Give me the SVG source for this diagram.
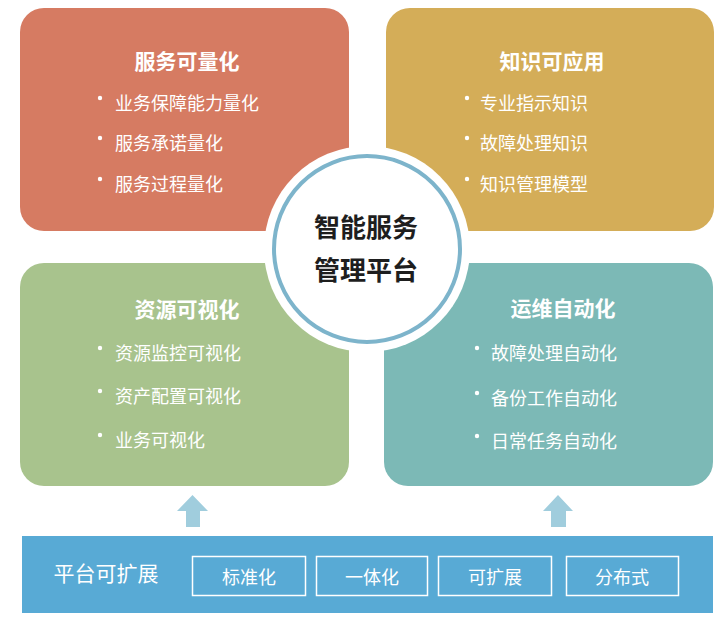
<svg xmlns="http://www.w3.org/2000/svg" width="723" height="619" viewBox="0 0 723 619">
<style>
text{font-family:"Noto Sans CJK SC","Noto Sans",sans-serif;dominant-baseline:central}
.t{font-size:21px;font-weight:bold;fill:#fff;text-anchor:middle}
.b{font-size:18px;fill:#fff}
.d{fill:#fff}
.c{font-size:26px;font-weight:bold;fill:#1e1e1e;text-anchor:middle}
.bx{fill:none;stroke:#fff;stroke-width:1.5}
.bt{font-size:18px;fill:#fff;text-anchor:middle}
.ar{fill:#a0cddd}
</style>
<rect width="723" height="619" fill="#fff"/>
<g id="quantify">
<rect x="20" y="8" width="329" height="223" rx="24" fill="#d67b62"/>
<text class="t" x="187" y="60">服务可量化</text>
<circle class="d" cx="100" cy="98" r="2.2"/><text class="b" x="115" y="102">业务保障能力量化</text>
<circle class="d" cx="100" cy="138" r="2.2"/><text class="b" x="115" y="142">服务承诺量化</text>
<circle class="d" cx="100" cy="179" r="2.2"/><text class="b" x="115" y="183">服务过程量化</text>
</g>
<g id="knowledge">
<rect x="386" y="8" width="328" height="223" rx="24" fill="#d4ad58"/>
<text class="t" x="552" y="60">知识可应用</text>
<circle class="d" cx="467" cy="98" r="2.2"/><text class="b" x="480" y="102">专业指示知识</text>
<circle class="d" cx="467" cy="138" r="2.2"/><text class="b" x="480" y="142">故障处理知识</text>
<circle class="d" cx="467" cy="179" r="2.2"/><text class="b" x="480" y="183">知识管理模型</text>
</g>
<g id="visual">
<rect x="20" y="263" width="329" height="223" rx="24" fill="#a8c38d"/>
<text class="t" x="187" y="308">资源可视化</text>
<circle class="d" cx="100" cy="348" r="2.2"/><text class="b" x="115" y="352">资源监控可视化</text>
<circle class="d" cx="100" cy="391" r="2.2"/><text class="b" x="115" y="395">资产配置可视化</text>
<circle class="d" cx="100" cy="435" r="2.2"/><text class="b" x="115" y="439">业务可视化</text>
</g>
<g id="automation">
<rect x="384" y="263" width="329" height="223" rx="24" fill="#7cb9b6"/>
<text class="t" x="563" y="307">运维自动化</text>
<circle class="d" cx="477" cy="348" r="2.2"/><text class="b" x="491" y="352">故障处理自动化</text>
<circle class="d" cx="477" cy="393" r="2.2"/><text class="b" x="491" y="397">备份工作自动化</text>
<circle class="d" cx="477" cy="436" r="2.2"/><text class="b" x="491" y="440">日常任务自动化</text>
</g>
<g id="center">
<circle cx="367" cy="249" r="103" fill="#fff"/>
<circle cx="367" cy="249" r="93" fill="#fff" stroke="#7db4cb" stroke-width="4"/>
<text class="c" x="366" y="225">智能服务</text>
<text class="c" x="366" y="268">管理平台</text>
</g>
<g id="connectors">
<polygon class="ar" points="192.5,495 208,511 200,511 200,527 186,527 186,511 177,511"/>
<polygon class="ar" points="558,495 573,511 566,511 566,527 551,527 551,511 543,511"/>
</g>
<g id="platform">
<rect x="22" y="536" width="691" height="77" fill="#58aad5"/>
<text x="106" y="572" style="font-size:21px;fill:#fff;text-anchor:middle">平台可扩展</text>
<rect class="bx" x="192.5" y="556.5" width="113" height="39"/><text class="bt" x="249" y="576">标准化</text>
<rect class="bx" x="316.5" y="556.5" width="111" height="39"/><text class="bt" x="372" y="576">一体化</text>
<rect class="bx" x="438.5" y="556.5" width="113" height="39"/><text class="bt" x="495" y="576">可扩展</text>
<rect class="bx" x="566.5" y="556.5" width="112" height="39"/><text class="bt" x="622" y="576">分布式</text>
</g>
</svg>
